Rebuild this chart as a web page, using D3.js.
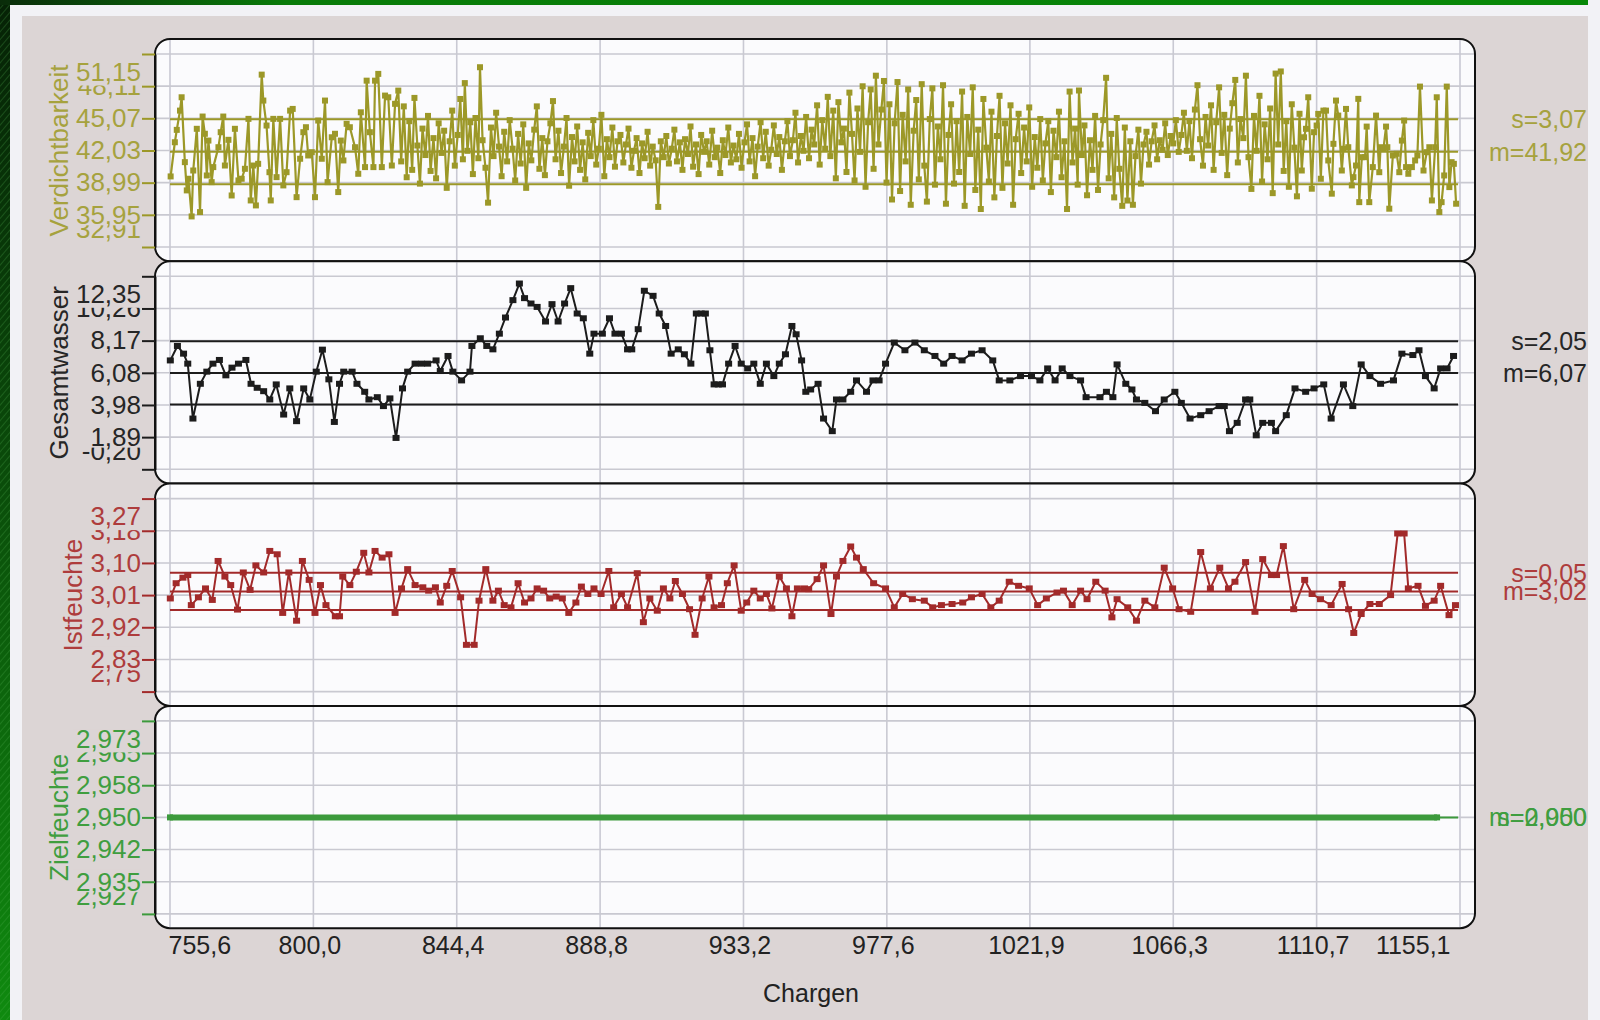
<!DOCTYPE html>
<html><head><meta charset="utf-8">
<script src="https://cdn.jsdelivr.net/npm/d3@7"></script>
<style>html,body{margin:0;padding:0;background:#dcd5d5;} svg{display:block}</style>
</head><body>
<svg id="c" width="1600" height="1020"></svg>
<script>
// ---------------- DATA ----------------
const panelTitles = ["Verdichtbarkeit", "Gesamtwasser", "Istfeuchte", "Zielfeuchte"];
const yTickLabels = [
  ["32,91", "35,95", "38,99", "42,03", "45,07", "48,11", "51,15"],
  ["-0,20", "1,89", "3,98", "6,08", "8,17", "10,26", "12,35"],
  ["2,75", "2,83", "2,92", "3,01", "3,10", "3,18", "3,27"],
  ["2,927", "2,935", "2,942", "2,950", "2,958", "2,965", "2,973"]
];
const yMin = [32.91, -0.20, 2.75, 2.927];
const yMax = [51.15, 12.35, 3.27, 2.973];
const means = [41.92, 6.07, 3.02, 2.950];
const sds = [3.07, 2.05, 0.05, 0.000];
const sLabels = ["s=3,07", "s=2,05", "s=0,05", "s=0,000"];
const mLabels = ["m=41,92", "m=6,07", "m=3,02", "m=2,950"];
const xTickValues = [755.6, 800.0, 844.4, 888.8, 933.2, 977.6, 1021.9, 1066.3, 1110.7, 1155.1];
const xTickLabels = ["755,6", "800,0", "844,4", "888,8", "933,2", "977,6", "1021,9", "1066,3", "1110,7", "1155,1"];
const xDomain = [755.6, 1155.1];
const ctrlExtent = [755.6, 1154.5];
const xTitle = "Chargen";

// Verdichtbarkeit [Charge, value]
const vdData = [
[755.8,39.58],[757.1,42.81],[757.7,43.98],[758.7,45.80],[759.2,47.06],[760.2,40.93],[760.8,38.26],[761.3,39.36],[762.3,35.80],[762.8,40.14],[763.9,44.08],[764.9,36.21],[765.7,45.24],[766.4,43.61],[767.0,39.67],[767.5,42.97],[768.5,39.04],[769.0,40.46],[770.6,42.34],[771.3,43.76],[772.1,45.24],[772.6,40.61],[773.7,43.04],[774.7,37.78],[775.7,44.08],[776.8,39.20],[777.8,39.36],[778.8,40.30],[779.9,45.02],[780.6,37.31],[781.4,40.61],[782.2,36.84],[782.9,40.77],[784.0,49.20],[784.5,46.75],[785.5,44.39],[786.4,39.98],[786.8,37.31],[787.6,45.02],[788.6,39.51],[789.7,45.02],[790.7,38.73],[791.7,39.98],[792.8,45.80],[793.6,45.96],[794.8,37.62],[795.9,41.25],[796.9,43.76],[797.7,44.23],[798.4,41.56],[799.5,41.87],[800.5,37.62],[801.5,44.86],[802.6,41.25],[803.6,46.75],[804.4,39.04],[805.7,43.28],[806.7,43.61],[807.7,38.10],[808.5,42.97],[809.3,41.09],[810.3,44.55],[811.3,44.23],[812.9,42.34],[813.9,39.83],[814.7,45.64],[816.0,40.46],[816.5,48.63],[817.5,43.76],[818.6,40.46],[819.1,48.63],[820.1,49.27],[821.2,40.46],[822.2,47.22],[823.2,47.06],[824.3,40.61],[825.3,46.44],[826.3,47.69],
[827.2,41.0],[828.0,46.2],[828.9,39.5],[829.7,44.8],[830.6,40.2],[831.3,47.0],[832.2,42.5],[833.0,38.9],[833.8,44.1],[834.7,41.6],[835.5,45.3],[836.3,40.1],[837.2,43.2],[838.0,39.4],[838.8,44.6],[839.7,41.8],[840.5,43.9],[841.3,38.5],[842.2,42.9],[843.0,45.8],[843.8,40.6],[844.7,43.5],[845.5,46.9],[846.3,41.2],
[846.9,48.4],[847.7,42.0],[848.6,44.7],[849.4,39.8],[850.2,45.1],[851.1,41.3],[851.6,49.9],[852.4,43.0],[853.3,40.4],[854.1,37.1],[855.0,44.2],[855.8,41.5],[856.6,45.6],[857.5,42.4],[858.3,39.6],[859.1,43.8],[860.0,41.0],[860.8,44.9],[861.7,42.2],
[862.5,39.2],[863.4,43.6],[864.2,40.8],[865.0,44.5],[865.9,38.5],[866.7,42.7],[867.5,41.1],[868.4,44.0],[869.2,46.2],[870.0,40.3],[870.9,43.2],[871.7,39.7],[872.5,42.9],[873.4,44.6],[874.2,46.7],[875.0,41.2],[875.9,43.9],[876.7,39.9],[877.6,42.4],[878.4,45.1],[879.2,38.7],[880.1,43.3],[880.9,41.0],[881.7,44.3],[882.6,40.2],[883.4,42.8],[884.2,39.3],[885.1,43.7],[885.9,41.5],[886.7,44.9],[887.6,40.7],[888.4,42.2],[889.2,45.4],[890.1,39.6],[890.9,43.1],[891.7,41.4],[892.6,44.2],[893.4,40.5],[894.2,42.9],
[895.1,43.5],[896.0,40.9],[896.8,42.6],[897.6,44.1],[898.5,40.4],[899.3,42.0],[900.1,43.2],[901.0,39.9],[901.8,42.7],[902.6,41.3],[903.5,43.8],[904.3,40.6],[905.1,42.4],[906.0,41.1],[906.8,36.7],[907.6,42.9],[908.5,41.4],[909.3,43.4],[910.1,40.8],[911.0,42.2],[911.8,44.0],[912.6,41.0],[913.5,42.8],[914.3,40.2],[915.1,43.1],[916.0,41.7],[916.8,44.3],[917.6,40.5],[918.5,42.6],[919.3,39.8],[920.1,43.5],[921.0,41.9],[921.8,42.9],[922.6,40.7],[923.5,43.9],[924.3,41.4],[925.1,42.3],[926.0,39.9],[926.8,43.0],[927.6,41.6],[928.5,44.2],[929.3,40.9],[930.1,42.5],[931.0,41.2],[931.8,43.6],[932.6,40.4],[933.5,42.8],[934.3,44.5],[935.1,41.0],[936.0,43.2],[936.8,39.6],[937.6,42.4],[938.5,44.7],[939.3,41.3],[940.1,43.8],[941.0,40.6],[941.8,42.1],[942.6,44.4],[943.5,41.7],[944.3,43.3],[945.1,40.2],[946.0,42.9],[946.8,44.8],[947.6,41.5],[948.5,43.0],[949.3,45.6],[950.1,40.9],[951.0,43.4],[951.8,42.0],[952.6,45.2],[953.5,41.3],[954.3,44.0],[955.1,42.6],
[956.0,46.3],[956.8,40.7],[957.6,44.9],[958.5,42.2],[959.3,47.1],[960.1,41.5],[961.0,45.8],[961.8,39.4],[962.6,46.6],[963.5,42.8],[964.3,44.1],[965.1,40.0],[966.0,47.5],[966.8,43.6],[967.6,39.2],[968.5,46.0],[969.3,41.9],[970.1,48.1],[971.0,38.6],[971.8,44.7],[972.6,47.8],[973.5,40.3],[974.2,49.1],[975.0,42.6],[975.9,45.9],[976.7,48.6],[977.5,39.0],[978.4,46.4],[979.2,37.4],[980.0,44.6],[980.9,48.5],[981.7,38.2],[982.5,45.4],[983.4,41.0],[984.2,47.8],[985.0,36.9],[985.9,43.9],[986.7,46.8],[987.5,39.3],[988.4,48.3],[989.2,40.6],[990.0,37.2],[990.9,45.0],[991.7,47.9],[992.5,38.8],[993.4,44.3],[994.2,41.2],[995.0,48.2],[995.9,37.0],[996.7,43.5],[997.5,46.4],[998.4,38.9],[999.2,44.8],
[1000.0,40.0],[1000.9,47.6],[1001.7,36.8],[1002.5,45.2],[1003.4,41.7],[1004.2,48.0],[1005.0,38.3],[1005.9,44.0],[1006.7,36.5],[1007.5,46.9],[1008.4,42.3],[1009.2,39.1],[1010.0,45.7],[1010.9,37.6],[1011.7,43.4],[1012.5,47.2],[1013.4,38.5],[1014.2,44.6],[1015.0,40.8],[1015.9,46.3],[1016.7,36.9],[1017.5,43.1],[1018.4,45.5],
[1019.2,39.9],[1020.1,44.2],[1020.9,41.0],[1021.7,46.1],[1022.6,38.6],[1023.4,43.3],[1024.2,40.4],[1025.1,45.0],[1025.9,39.2],[1026.7,42.7],[1027.6,44.8],[1028.4,38.1],[1029.2,43.9],[1030.1,41.4],[1030.9,45.7],[1031.7,39.5],[1032.6,42.9],[1033.4,36.5],[1034.2,47.6],[1035.1,40.9],[1035.9,44.1],[1036.7,38.8],[1037.1,47.7],[1038.0,41.6],[1038.8,44.4],[1039.6,37.8],[1040.5,43.0],[1041.3,40.2],[1042.1,45.3],[1043.0,38.3],[1043.8,42.6],[1044.6,44.9],[1045.5,48.9],[1046.3,39.4],[1047.1,43.6],[1048.0,37.6],[1048.8,45.1],[1049.6,40.3],
[1050.5,36.8],[1051.3,44.2],[1052.1,37.3],[1053.0,42.9],[1053.8,36.9],[1054.6,41.5],[1055.5,44.0],[1056.3,38.9],[1057.1,42.6],[1058.0,43.8],[1058.8,40.7],[1059.6,42.9],[1060.5,44.4],[1061.3,41.2],[1062.1,43.0],[1063.0,42.1],[1063.8,44.6],[1064.6,41.6],[1065.5,43.4],[1066.3,42.7],[1067.1,44.9],[1068.0,41.9],
[1068.8,43.5],[1069.6,45.6],[1070.5,42.0],[1071.3,44.8],[1072.1,41.3],[1073.0,45.9],[1073.8,48.2],[1074.6,43.1],[1075.5,40.6],[1076.3,45.2],[1077.1,42.5],[1078.0,46.3],[1078.8,40.2],[1079.6,44.7],[1080.5,48.0],[1081.3,41.8],[1082.1,45.4],[1083.0,39.7],[1083.8,44.1],[1084.6,46.5],[1085.5,48.7],[1086.3,40.9],[1087.1,45.0],[1088.0,43.2],[1088.8,49.1],[1089.6,41.4],
[1090.5,38.4],[1091.3,45.3],[1092.1,42.0],[1093.0,47.2],[1093.8,39.1],[1094.6,44.5],[1095.5,41.2],[1096.3,46.0],[1097.1,38.0],[1098.0,49.3],[1098.8,42.6],[1099.6,49.5],[1100.5,40.1],[1101.3,44.8],[1102.1,38.6],[1103.0,46.4],[1103.8,42.3],[1104.6,37.7],[1105.4,45.5],
[1106.1,40.14],[1106.8,43.28],[1107.4,44.08],[1108.1,47.06],[1109.2,38.42],[1109.9,43.76],[1110.7,44.39],[1111.2,45.49],[1112.0,39.36],[1112.8,45.80],[1113.6,45.80],[1114.3,41.09],[1115.4,37.95],[1115.9,42.66],[1116.7,46.75],[1117.4,45.33],[1118.5,40.14],[1119.0,42.19],[1119.8,45.96],[1120.5,42.34],[1121.6,38.73],[1122.1,39.51],[1122.9,40.61],[1123.6,46.91],[1123.9,37.15],[1124.7,41.40],[1125.7,41.40],[1126.2,44.29],[1127.0,37.15],[1128.1,40.46],[1129.1,45.33],[1130.1,39.98],[1130.5,42.34],[1131.4,42.19],[1132.2,44.29],[1132.6,42.34],[1133.2,36.53],[1134.3,41.56],[1135.5,41.72],[1136.3,39.98],[1137.1,42.97],[1137.8,44.86],[1138.4,40.46],[1139.1,39.83],[1140.2,40.46],[1141.2,41.09],[1141.9,41.56],[1142.7,48.07],[1143.8,40.14],[1144.8,41.87],[1145.6,42.34],[1146.4,37.31],[1147.4,42.34],[1147.9,47.06],[1148.7,36.21],[1149.4,37.15],[1150.2,39.67],[1151.0,48.07],[1151.8,38.57],[1152.5,40.93],[1153.2,40.77],[1153.9,37.00]
];

// Gesamtwasser [Charge, value]
const gwData = [
[755.7,6.88],[757.9,7.82],[759.8,7.32],[761.1,6.67],[762.7,3.10],[765.0,5.36],[767.0,6.15],[768.9,6.67],[770.9,6.91],[772.9,5.91],[774.8,6.41],[776.8,6.67],[779.1,6.91],[780.7,5.36],[782.6,5.10],[784.6,4.88],[786.5,4.34],[788.5,5.32],[790.8,3.36],[792.7,5.06],[794.8,2.93],[797.0,5.06],[798.9,4.34],[800.9,6.15],[802.8,7.58],[804.8,5.65],[806.5,2.88],[808.1,5.36],[809.4,6.15],[812.0,6.15],[813.5,5.36],[815.9,4.84],[817.2,4.34],[819.8,4.49],[821.7,3.91],[823.7,4.41],[825.6,1.84],[827.6,5.06],[829.2,6.15],[831.5,6.67],[833.5,6.67],[835.4,6.67],[838.0,6.88],[839.3,6.19],[841.7,7.17],[843.2,6.15],[845.9,5.58],[848.5,6.15],[849.1,7.82],[851.7,8.32],[853.7,7.82],[855.6,7.60],[857.6,8.62],[859.5,9.67],[861.8,10.80],[863.8,11.88],[865.4,10.93],[867.4,10.58],[869.3,10.36],[871.9,9.41],[873.9,10.54],[875.8,9.41],[877.8,10.58],[879.7,11.58],[881.7,9.93],[883.6,9.62],[885.6,7.32],[886.9,8.62],[889.5,8.62],[891.7,9.62],[893.4,8.62],[895.4,8.62],[897.3,7.60],[898.6,7.60],[900.6,8.91],[902.5,11.41],[905.2,11.08],[907.1,9.93],[909.1,9.12],[910.8,7.32],[913.0,7.60],[914.9,7.28],[916.9,6.67],[918.6,9.93],[920.1,9.93],[921.4,9.93],[922.8,7.54],[924.1,5.32],[925.4,5.32],[926.7,5.32],[928.6,6.67],[930.6,7.82],[932.5,6.67],[934.5,6.36],[936.4,6.67],[938.4,5.36],[940.3,6.67],[942.6,5.86],[944.3,6.67],[946.2,7.28],[948.2,9.12],[949.5,8.58],[951.2,6.88],[952.5,4.84],[954.0,4.99],[956.3,5.36],[958.0,3.10],[960.7,2.28],[962.0,4.34],[964.0,4.34],[966.4,4.84],[968.2,5.58],[971.3,4.84],[973.3,5.58],[975.2,5.58],[977.2,6.67],[979.9,8.04],[983.2,7.54],[986.3,8.04],[989.2,7.54],[992.5,7.17],[995.2,6.67],[997.8,7.17],[1000.9,6.88],[1003.8,7.32],[1007.1,7.54],[1010.4,6.88],[1012.4,5.58],[1015.7,5.58],[1019.0,5.86],[1022.4,5.86],[1025.0,5.58],[1027.4,6.36],[1029.7,5.58],[1031.9,6.36],[1034.3,5.86],[1037.6,5.58],[1039.3,4.49],[1043.6,4.49],[1045.6,4.84],[1047.6,4.49],[1048.9,6.62],[1051.6,5.36],[1053.5,4.99],[1054.9,4.34],[1057.5,4.12],[1060.8,3.58],[1063.5,4.34],[1066.8,4.84],[1068.8,4.12],[1071.5,3.10],[1074.8,3.32],[1077.4,3.58],[1080.5,3.91],[1082.1,3.91],[1083.7,2.28],[1086.1,2.82],[1088.7,4.34],[1090.0,4.34],[1092.0,2.01],[1094.0,2.82],[1096.7,2.82],[1098.0,2.28],[1101.3,3.32],[1104.0,5.06],[1107.3,4.84],[1109.9,5.06],[1112.9,5.32],[1115.2,3.10],[1119.0,5.32],[1121.9,3.91],[1124.5,6.62],[1127.2,5.86],[1130.5,5.36],[1134.5,5.58],[1137.1,7.32],[1140.5,7.23],[1142.4,7.54],[1144.4,5.86],[1147.1,5.06],[1149.1,6.36],[1151.1,6.36],[1153.1,7.17]
];

// Istfeuchte [Charge, value]
const ifData = [
[755.7,3.001],[757.5,3.042],[759.6,3.057],[761.1,3.064],[762.2,2.983],[764.4,3.004],[766.6,3.028],[768.7,2.997],[770.5,3.102],[772.6,3.060],[774.4,3.037],[776.5,2.971],[778.3,3.071],[780.4,3.024],[782.2,3.090],[784.6,3.071],[786.5,3.129],[788.8,3.120],[790.5,2.962],[792.4,3.071],[794.8,2.941],[796.6,3.102],[798.7,3.051],[800.5,2.962],[802.2,3.037],[803.9,2.983],[806.8,2.953],[808.1,2.953],[809.1,3.060],[811.3,3.037],[813.3,3.073],[815.6,3.124],[817.2,3.071],[819.1,3.129],[821.3,3.111],[823.4,3.120],[825.3,2.962],[827.3,3.028],[829.2,3.080],[831.5,3.037],[833.9,3.031],[835.7,3.022],[837.8,3.031],[839.3,2.990],[841.3,3.035],[843.0,3.075],[845.6,3.004],[847.4,2.876],[849.8,2.876],[851.3,2.995],[853.4,3.080],[855.6,2.995],[857.3,3.022],[859.1,2.983],[861.2,2.977],[863.4,3.042],[865.4,2.990],[867.4,3.001],[869.3,3.028],[871.3,3.022],[873.2,3.001],[875.2,3.006],[877.1,3.001],[879.1,2.962],[881.3,2.990],[883.0,3.033],[885.0,3.013],[886.9,3.028],[889.1,3.013],[891.5,3.075],[893.0,2.977],[895.4,3.013],[897.3,2.977],[900.3,3.069],[902.2,2.937],[904.2,3.001],[906.5,2.968],[908.4,3.028],[910.4,3.001],[912.1,3.048],[914.3,3.013],[916.5,2.972],[918.2,2.903],[920.4,3.001],[922.5,3.060],[924.1,2.977],[926.4,2.983],[928.2,3.042],[930.3,3.090],[932.5,2.968],[934.2,2.990],[936.4,3.022],[938.4,3.001],[940.3,3.013],[942.0,2.974],[944.3,3.060],[946.5,3.028],[948.2,2.953],[949.9,3.028],[952.1,3.028],
[953.4,3.026],[956.0,3.053],[958.0,3.090],[960.3,2.959],[962.0,3.060],[964.0,3.102],[966.4,3.141],[968.2,3.111],[970.3,3.080],[973.5,3.042],[977.2,3.028],[979.9,2.977],[982.5,3.013],[985.5,2.999],[989.2,2.995],[991.8,2.977],[994.5,2.983],[997.8,2.986],[1001.1,2.990],[1003.8,3.004],[1007.1,3.013],[1009.8,2.977],[1012.4,2.995],[1015.5,3.046],[1018.4,3.035],[1021.7,3.028],[1024.3,2.983],[1027.0,3.001],[1030.3,3.017],[1032.3,3.022],[1035.0,2.983],[1037.6,3.022],[1039.6,2.999],[1042.3,3.046],[1045.2,3.022],[1047.3,2.950],[1048.9,2.999],[1052.2,2.977],[1054.9,2.941],[1057.5,2.995],[1060.6,2.977],[1063.5,3.084],[1066.1,3.028],[1068.1,2.972],[1071.7,2.965],[1074.8,3.126],[1077.8,3.028],[1080.7,3.084],[1083.4,3.028],[1085.4,3.046],[1088.7,3.099],[1091.6,2.965],[1094.0,3.107],[1096.7,3.064],[1098.3,3.064],[1100.4,3.142],[1103.6,2.972],[1107.0,3.051],[1109.3,3.013],[1111.9,2.999],[1115.2,2.983],[1118.6,3.040],[1120.6,2.972],[1122.2,2.908],[1124.5,2.959],[1127.2,2.986],[1130.1,2.986],[1133.6,3.010],[1135.8,3.176],[1137.8,3.176],[1139.1,3.028],[1142.1,3.035],[1144.4,2.981],[1147.1,2.995],[1149.1,3.035],[1151.7,2.956],[1153.7,2.983]
];

// Zielfeuchte [Charge, value]
const zfData = [[755.6, 2.950], [1148.0, 2.950]];

const seriesData = [vdData, gwData, ifData, zfData];

// ---------------- STYLE ----------------
const lineColors = ["#9c9828", "#1c1c1c", "#a22a2a", "#3c9a3c"];
const textColors = ["#a6a23e", "#262626", "#ae3c3c", "#3f9e3f"];
const lineWidths = [2.2, 2, 2, 6];
const markerW = [6, 7, 7, 6];
const markerH = [6, 6, 6, 6];
const FONT = "'Liberation Sans', Arial, sans-serif";
const BG = "#dcd5d5";

const svg = d3.select("#c");
const defs = svg.append("defs");

const gv = defs.append("linearGradient").attr("id", "gv").attr("x1", 0).attr("y1", 0).attr("x2", 0).attr("y2", 1);
gv.append("stop").attr("offset", 0).attr("stop-color", "#062206");
gv.append("stop").attr("offset", 0.45).attr("stop-color", "#0a4a0a");
gv.append("stop").attr("offset", 1).attr("stop-color", "#0f8a0f");
const gh = defs.append("linearGradient").attr("id", "gh").attr("x1", 0).attr("y1", 0).attr("x2", 1).attr("y2", 0);
gh.append("stop").attr("offset", 0).attr("stop-color", "#0a2c0a");
gh.append("stop").attr("offset", 0.18).attr("stop-color", "#087a08");
gh.append("stop").attr("offset", 1).attr("stop-color", "#078807");
const pat = defs.append("pattern").attr("id", "stripes").attr("width", 5).attr("height", 5)
  .attr("patternUnits", "userSpaceOnUse").attr("patternTransform", "rotate(40)");
pat.append("line").attr("x1", 0).attr("y1", 0).attr("x2", 0).attr("y2", 5)
  .attr("stroke", "#4fae4f").attr("stroke-width", 1).attr("stroke-opacity", 0.55);

// frame
svg.append("rect").attr("x", 0).attr("y", 0).attr("width", 1600).attr("height", 1020).attr("fill", "#f2f2f6");
svg.append("rect").attr("x", 22).attr("y", 16).attr("width", 1566).attr("height", 1004).attr("fill", BG);
svg.append("rect").attr("x", 0).attr("y", 0).attr("width", 10).attr("height", 1020).attr("fill", "url(#gv)");
svg.append("rect").attr("x", 0).attr("y", 0).attr("width", 10).attr("height", 1020).attr("fill", "url(#stripes)");
svg.append("rect").attr("x", 0).attr("y", 0).attr("width", 1588).attr("height", 5).attr("fill", "url(#gh)");

// ---------------- LAYOUT ----------------
const PX0 = 155, PX1 = 1475, PTOP = 39, PH = 222.3;
const x = d3.scaleLinear().domain(xDomain).range([170, 1460]);

for (let p = 0; p < 4; p++) {
  const top = PTOP + p * PH;
  const y = d3.scaleLinear().domain([yMin[p], yMax[p]]).range([top + 208, top + 15]);
  const tv = d3.range(7).map(i => yMin[p] + i * (yMax[p] - yMin[p]) / 6);
  const g = svg.append("g");

  g.append("rect").attr("x", PX0).attr("y", top).attr("width", PX1 - PX0).attr("height", PH)
    .attr("rx", 15).attr("fill", "#fbfbfd");

  // grid
  g.append("g").selectAll("line").data(xTickValues).join("line")
    .attr("x1", d => x(d)).attr("x2", d => x(d)).attr("y1", top + 1).attr("y2", top + PH - 1)
    .attr("stroke", "#c9c9d3").attr("stroke-width", 1.6);
  g.append("g").selectAll("line").data(tv).join("line")
    .attr("x1", PX0).attr("x2", PX1).attr("y1", d => y(d)).attr("y2", d => y(d))
    .attr("stroke", "#c9c9d1").attr("stroke-width", 1.6);

  // control lines m, m±s
  const ctrl = sds[p] > 0 ? [means[p] - sds[p], means[p], means[p] + sds[p]] : [means[p]];
  g.append("g").selectAll("line").data(ctrl).join("line")
    .attr("x1", x(ctrlExtent[0])).attr("x2", x(ctrlExtent[1]))
    .attr("y1", d => y(d)).attr("y2", d => y(d))
    .attr("stroke", lineColors[p]).attr("stroke-width", 2);

  // series
  const data = seriesData[p];
  const line = d3.line().x(d => x(d[0])).y(d => y(d[1]));
  g.append("path").datum(data).attr("d", line).attr("fill", "none")
    .attr("stroke", lineColors[p]).attr("stroke-width", lineWidths[p])
    .attr("stroke-linejoin", "round");
  const mw = markerW[p], mh = markerH[p];
  g.append("g").selectAll("rect").data(data).join("rect")
    .attr("x", d => x(d[0]) - mw / 2).attr("y", d => y(d[1]) - mh / 2)
    .attr("width", mw).attr("height", mh).attr("fill", lineColors[p]);

  // border
  g.append("rect").attr("x", PX0).attr("y", top).attr("width", PX1 - PX0).attr("height", PH)
    .attr("rx", 15).attr("fill", "none").attr("stroke", "#111").attr("stroke-width", 2);

  // y axis
  const ax = d3.axisLeft(y).tickValues(tv).tickSize(13).tickSizeOuter(0).tickPadding(1)
    .tickFormat((d, i) => yTickLabels[p][i]);
  const ag = svg.append("g").attr("transform", `translate(${PX0},0)`).call(ax);
  ag.select(".domain").attr("stroke", "#111").attr("stroke-width", 2);
  ag.selectAll(".tick line").attr("stroke", lineColors[p]).attr("stroke-width", 2);
  ag.selectAll(".tick text").attr("fill", textColors[p]).style("font-family", FONT).style("font-size", "26px");
  ag.selectAll(".tick").each(function (d, i) {
    const t = d3.select(this).select("text");
    if (i === 0) t.attr("y", -18);
    if (i === 6) t.attr("y", 18);
    if (i === 6) {
      d3.select(this).insert("rect", "text").attr("x", -82).attr("y", 18 - 10)
        .attr("width", 68).attr("height", 23).attr("fill", BG);
    }
    if (i === 1) {
      d3.select(this).insert("rect", "text").attr("x", -82).attr("y", -13)
        .attr("width", 68).attr("height", 23).attr("fill", BG);
    }
  });
  let minX = Infinity;
  ag.selectAll(".tick text").each(function () { const b = this.getBBox(); minX = Math.min(minX, b.x); });
  const tx = PX0 + minX - 17, ty = (y.range()[0] + y.range()[1]) / 2;
  svg.append("text").attr("transform", `translate(${tx},${ty}) rotate(-90)`)
    .attr("text-anchor", "middle").attr("dominant-baseline", "central")
    .attr("fill", textColors[p]).style("font-family", FONT).style("font-size", "26px")
    .text(panelTitles[p]);

  // stats
  svg.append("text").attr("x", 1587).attr("y", y(means[p] + sds[p])).attr("text-anchor", "end")
    .attr("dominant-baseline", "central").attr("fill", textColors[p])
    .style("font-family", FONT).style("font-size", "25px").text(sLabels[p]);
  svg.append("text").attr("x", 1587).attr("y", y(means[p])).attr("text-anchor", "end")
    .attr("dominant-baseline", "central").attr("fill", textColors[p])
    .style("font-family", FONT).style("font-size", "25px").text(mLabels[p]);
}

// x axis
const xBase = PTOP + 4 * PH;
const xa = d3.axisBottom(x).tickValues(xTickValues).tickSize(0).tickPadding(8)
  .tickFormat((d, i) => xTickLabels[i]);
const xg = svg.append("g").attr("transform", `translate(0,${xBase})`).call(xa);
xg.select(".domain").remove();
xg.selectAll(".tick text").attr("fill", "#222").style("font-family", FONT).style("font-size", "25px")
  .each(function (d, i) {
    const t = d3.select(this);
    if (i === 0) t.attr("text-anchor", "start").attr("x", -2);
    else if (i === xTickValues.length - 1) t.attr("text-anchor", "end").attr("x", -10);
    else t.attr("x", -4);
  });
svg.append("text").attr("x", 811).attr("y", 993).attr("text-anchor", "middle")
  .attr("dominant-baseline", "central").attr("fill", "#222")
  .style("font-family", FONT).style("font-size", "25px").text(xTitle);
</script>
</body></html>
